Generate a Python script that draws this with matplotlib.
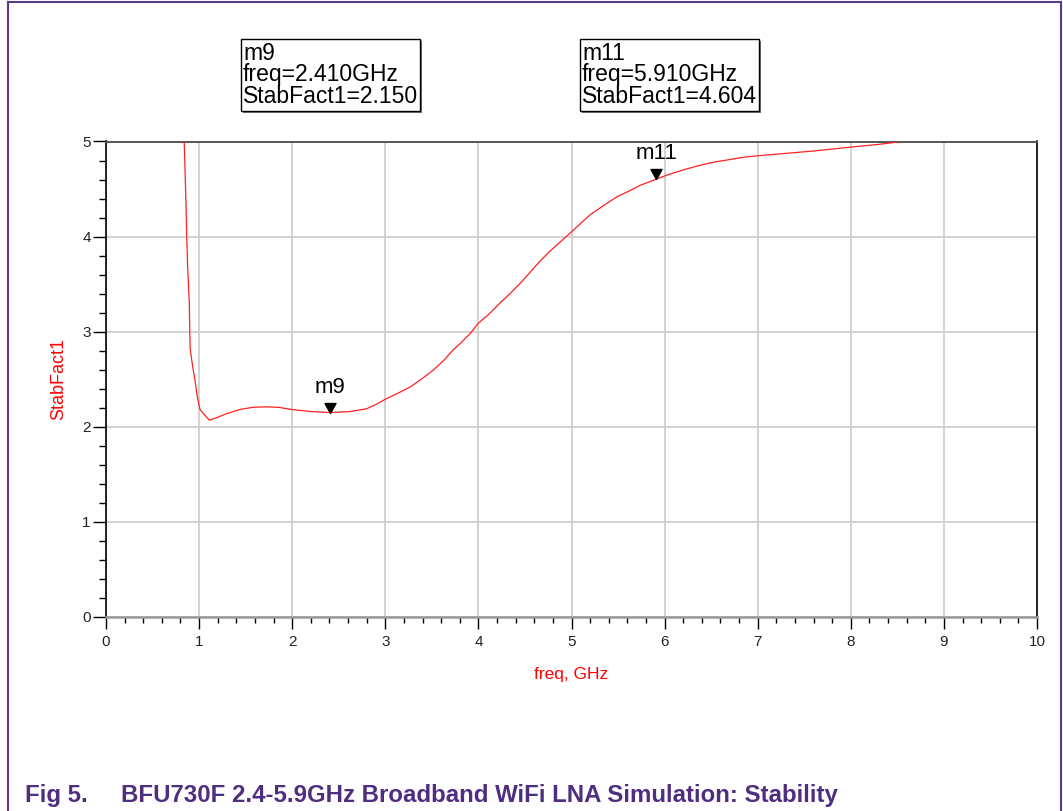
import matplotlib
matplotlib.use("Agg")
import matplotlib.pyplot as plt
from matplotlib.patches import Rectangle
from matplotlib.lines import Line2D
from matplotlib.path import Path
from matplotlib.ticker import MultipleLocator

plt.rcParams['font.family'] = ['Liberation Sans', 'DejaVu Sans']

# ---- data ----
freq_ghz = [0.84, 0.85, 0.86, 0.867, 0.877, 0.895, 0.90, 0.905, 0.93, 0.956,
            0.98, 1.01, 1.11, 1.20, 1.30, 1.45, 1.58, 1.72, 1.85, 2.01,
            2.20, 2.41, 2.62, 2.80, 2.90, 3.00, 3.13, 3.27, 3.40, 3.52,
            3.63, 3.73, 3.82, 3.91, 4.00, 4.12, 4.23, 4.34, 4.45, 4.56,
            4.66, 4.75, 4.84, 4.92, 5.00, 5.10, 5.20, 5.35, 5.49, 5.62,
            5.74, 5.91, 6.02, 6.13, 6.25, 6.38, 6.54, 6.70, 6.85, 7.00,
            7.24, 7.60, 7.99, 8.30, 8.56]
stab_fact = [5.0, 4.67, 4.31, 4.0, 3.68, 3.30, 3.0, 2.81, 2.64, 2.49,
             2.32, 2.18, 2.07, 2.10, 2.14, 2.185, 2.205, 2.21, 2.205, 2.18,
             2.16, 2.150, 2.16, 2.19, 2.235, 2.29, 2.35, 2.42, 2.51, 2.60,
             2.70, 2.81, 2.89, 2.98, 3.09, 3.19, 3.30, 3.40, 3.51, 3.63,
             3.74, 3.83, 3.91, 3.98, 4.05, 4.14, 4.23, 4.33, 4.42, 4.48,
             4.54, 4.604, 4.645, 4.68, 4.715, 4.75, 4.785, 4.81, 4.835, 4.85,
             4.87, 4.90, 4.94, 4.97, 5.0]

marker_names = ["m9", "m11"]
marker_freq = [2.410, 5.910]
marker_val = [2.150, 4.604]

x_ticks = [0, 1, 2, 3, 4, 5, 6, 7, 8, 9, 10]
y_ticks = [0, 1, 2, 3, 4, 5]

caption_num = "Fig 5."
caption_text = "BFU730F 2.4-5.9GHz Broadband WiFi LNA Simulation: Stability"

W, H = 1063, 811
fig = plt.figure(figsize=(W / 100, H / 100), dpi=100)

def fx(px):
    return px / W

def fy(py):
    return 1 - py / H

ax_l, ax_r, ax_t, ax_b = 106, 1037, 141.5, 617
ax = fig.add_axes([fx(ax_l), fy(ax_b), fx(ax_r - ax_l), (ax_b - ax_t) / H])

ax.plot(freq_ghz, stab_fact, color='#ff2020', lw=0.9, clip_on=True, zorder=3)

ax.set_xlim(0, 10)
ax.set_ylim(0, 5)
ax.set_xticks(x_ticks)
ax.set_yticks(y_ticks)
ax.xaxis.set_minor_locator(MultipleLocator(0.2))
ax.yaxis.set_minor_locator(MultipleLocator(0.2))
ax.grid(True, which='major', color='#cfcfcf', lw=1.3, zorder=0)
ax.set_axisbelow(True)

ax.tick_params(axis='x', which='major', direction='out', length=8.6, width=1,
               color='black', labelsize=11, labelcolor='#222222', pad=4)
ax.tick_params(axis='x', which='minor', direction='out', length=4.3, width=1,
               color='black')
ax.tick_params(axis='y', which='major', direction='out', length=9.4, width=1,
               color='black', labelsize=11, labelcolor='#222222', pad=1.5)
ax.tick_params(axis='y', which='minor', direction='out', length=5, width=1,
               color='black')

ax.spines['left'].set_color('black')
ax.spines['left'].set_linewidth(1.2)
ax.spines['right'].set_color('black')
ax.spines['right'].set_linewidth(1.2)
ax.spines['top'].set_color('#555555')
ax.spines['top'].set_linewidth(1.4)
ax.spines['bottom'].set_color('#999999')
ax.spines['bottom'].set_linewidth(1.8)

ax.set_xlabel("freq, GHz", color='red', fontsize=12.5, labelpad=13)
ax.set_ylabel("StabFact1", color='red', fontsize=13, labelpad=11)

# marker triangles (tip at the data point)
tri = Path([(-0.55, 1.0), (0.55, 1.0), (0.0, 0.0), (-0.55, 1.0)],
           [Path.MOVETO, Path.LINETO, Path.LINETO, Path.CLOSEPOLY])
for name, mf, mv in zip(marker_names, marker_freq, marker_val):
    ax.plot([mf], [mv], marker=tri, markersize=14.4, color='black',
            linestyle='none', zorder=5, clip_on=False)
    ax.annotate(name, xy=(mf, mv), xytext=(0, 10.6), textcoords='offset points',
                ha='center', va='bottom', fontsize=16, color='black', zorder=6)

# marker readout boxes
boxes = [(241, 39, 420, 111), (580, 39, 759, 111)]
for (bl, bt, br, bb), name, mf, mv in zip(boxes, marker_names, marker_freq, marker_val):
    shadow = Rectangle((fx(bl + 2), fy(bb + 2)), fx(br - bl), (bb - bt) / H,
                       transform=fig.transFigure, facecolor='#777777',
                       edgecolor='none', zorder=1)
    box = Rectangle((fx(bl), fy(bb)), fx(br - bl), (bb - bt) / H,
                    transform=fig.transFigure, facecolor='white',
                    edgecolor='black', lw=1.0, zorder=2)
    fig.patches.extend([shadow, box])
    lines = [name, f"freq={mf:.3f}GHz", f"StabFact1={mv:.3f}"]
    for i, line in enumerate(lines):
        fig.text(fx(bl + 2), fy(60 + 21.5 * i), line, fontsize=16.5,
                 va='baseline', ha='left', color='black', zorder=3)

# purple frame
purple = '#5b3a8c'
fig.add_artist(Line2D([fx(8), fx(8)], [0, fy(2)], color=purple, lw=1.5,
                      transform=fig.transFigure))
fig.add_artist(Line2D([fx(1061), fx(1061)], [0, fy(2)], color=purple, lw=1.5,
                      transform=fig.transFigure))
fig.add_artist(Line2D([fx(8), fx(1061)], [fy(2), fy(2)], color=purple, lw=1.5,
                      transform=fig.transFigure))

# caption
cap_color = '#4f2d7f'
fig.text(fx(25), fy(802), caption_num, fontsize=17.3, fontweight='bold',
         color=cap_color, va='baseline', ha='left')
fig.text(fx(121), fy(802), caption_text, fontsize=17.3, fontweight='bold',
         color=cap_color, va='baseline', ha='left')

fig.savefig("out.png", dpi=100, facecolor='white')
